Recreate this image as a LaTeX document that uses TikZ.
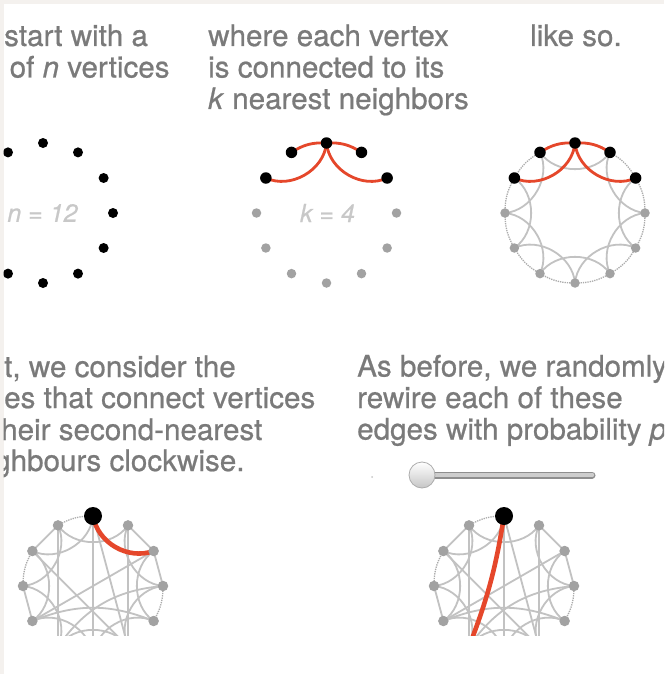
\documentclass[tikz,border=0pt]{standalone}
\usepackage{fontspec}
\setmainfont{TeX Gyre Heros}
\newfontfamily\heavyfont{TeX Gyre Heros}[FakeBold=0.7]
\usetikzlibrary{calc}
\definecolor{txtc}{HTML}{7A7A7A}
\definecolor{lblc}{HTML}{C8C8C8}
\definecolor{vgray}{HTML}{A2A2A2}
\definecolor{egray}{HTML}{C2C2C2}
\definecolor{ringc}{HTML}{ABABAB}
\definecolor{redge}{HTML}{E5472B}
\definecolor{framec}{HTML}{F4F1EE}
\definecolor{sldark}{HTML}{8E8E8E}
\definecolor{sllight}{HTML}{CDCDCD}

\newcommand\wsgraph[2]{%
  \foreach \i in {0,...,11} \coordinate (#1\i) at ($(#2)+({90-30*\i}:70)$);
  \foreach \a/\b in {11/0, 9/10, 3/4, 5/6, 6/7}
    \draw[ringedge] (#1\a) to[bend left=15] (#1\b);
  \foreach \a/\b in {10/11, 8/9, 1/2, 2/3}
    \draw[inedge] (#1\a) -- (#1\b);
  \foreach \a/\b in {11/1,10/0,9/11,8/10,7/9,6/8,5/7,4/6,3/5,2/4,1/3}
    \draw[inedge] (#1\a) to[bend right=55] (#1\b);
  \foreach \a/\b in {0/6, 0/5, 10/5, 2/8, 11/7, 1/5}
    \draw[inedge] (#1\a) -- (#1\b);
  \draw[inedge] (#18) to[bend left=22] (#14);
  \draw[inedge] (#17) to[bend left=25] (#13);
}

\begin{document}
\begin{tikzpicture}[x=1pt,y=1pt,
  txtstyle/.style={anchor=base west, inner sep=0, text=txtc, font=\heavyfont\fontsize{29.6}{32}\selectfont},
  numlbl/.style={text=lblc, inner sep=0, font=\heavyfont\fontsize{25}{28}\selectfont\itshape},
  bdot/.style={circle, fill=black, inner sep=0, minimum size=10pt},
  bigbdot/.style={circle, fill=black, inner sep=0, minimum size=11.5pt},
  hugebdot/.style={circle, fill=black, inner sep=0, minimum size=18pt},
  gdot/.style={circle, fill=vgray, inner sep=0, minimum size=9.5pt},
  gdotb/.style={circle, fill=vgray, inner sep=0, minimum size=10.5pt},
  ringedge/.style={draw=ringc, line width=1.3pt, densely dotted},
  inedge/.style={draw=egray, line width=1.8pt},
  redarc/.style={draw=redge, line width=2.8pt},
  redthick/.style={draw=redge, line width=4.6pt},
  knob/.style={circle, minimum size=26pt, inner sep=0, draw=gray!65, line width=0.8pt, top color=white, bottom color=gray!45},
]
\useasboundingbox (0,0) rectangle (664,-674);
\fill[framec] (0,0) rectangle (664,-674);
\fill[white] (3.5,-4) rectangle (664,-674);
\begin{scope}
\clip (3.5,-4) rectangle (664,-674);

% ---------- top texts ----------
\node[txtstyle] (t1) at (4,-46) {start with a};
\node[txtstyle] (t2) at (9.5,-77.5) {of \textit{n} vertices};
\node[txtstyle] (t3) at (208,-46) {where each vertex};
\node[txtstyle] (t4) at (208,-77.5) {is connected to its};
\node[txtstyle] (t5) at (208,-109) {\textit{k} nearest neighbors};
\node[txtstyle] (t6) at (530,-46) {like so.};

% ---------- panel 1 ----------
\foreach \i in {0,...,11}
  \node[bdot] (a\i) at ($(43,-213)+({90-30*\i}:70)$) {};
\node[numlbl] (nlab) at (42.5,-213) {n = 12};

% ---------- panel 2 ----------
\foreach \i in {0,...,11}
  \coordinate (b\i) at ($(326.5,-213)+({90-30*\i}:70)$);
\draw[redarc] (b0) to[bend left=18] (b1);
\draw[redarc] (b11) to[bend left=18] (b0);
\draw[redarc] (b0) to[bend right=55] (b2);
\draw[redarc] (b10) to[bend right=55] (b0);
\foreach \i in {3,...,9} \node[gdot] (bn\i) at (b\i) {};
\foreach \i in {10,11,0,1,2} \node[bigbdot] (bn\i) at (b\i) {};
\node[numlbl] (klab) at (327.5,-213) {k = 4};

% ---------- panel 3 ----------
\foreach \i in {0,...,11}
  \coordinate (c\i) at ($(575,-213)+({90-30*\i}:70)$);
\foreach \a/\b in {1/2,2/3,3/4,4/5,5/6,6/7,7/8,8/9,9/10,10/11}
  \draw[ringedge] (c\a) to[bend left=15] (c\b);
\foreach \a/\b in {11/1,9/11,8/10,7/9,6/8,5/7,4/6,3/5,2/4,1/3}
  \draw[inedge] (c\a) to[bend right=55] (c\b);
\draw[redarc] (c0) to[bend left=18] (c1);
\draw[redarc] (c11) to[bend left=18] (c0);
\draw[redarc] (c0) to[bend right=55] (c2);
\draw[redarc] (c10) to[bend right=55] (c0);
\foreach \i in {3,...,9} \node[gdot] (cn\i) at (c\i) {};
\foreach \i in {10,11,0,1,2} \node[bigbdot] (cn\i) at (c\i) {};

% ---------- bottom texts ----------
\node[txtstyle] (u1) at (4,-377) {t, we consider the};
\node[txtstyle] (u2) at (4,-408) {es that connect vertices};
\node[txtstyle] (u3) at (1,-440) {heir second-nearest};
\node[txtstyle] (u4) at (-6,-471) {ghbours clockwise.};
\node[txtstyle] (v1) at (357,-376.5) {As before, we randomly};
\node[txtstyle] (v2) at (357,-408) {rewire each of these};
\node[txtstyle] (v3) at (357,-439.5) {edges with probability \textit{p}};

% ---------- slider ----------
\coordinate (trackL) at (422,-475);
\coordinate (trackR) at (592,-475);
\draw[line width=7pt, line cap=round, sldark] (trackL) -- (trackR);
\draw[line width=4.6pt, line cap=round, sllight] (trackL) -- (trackR);
\node[knob] (knobn) at (trackL) {};
\node[circle, fill=gray!45, minimum size=2pt, inner sep=0] (tick) at (372,-477) {};

% ---------- bottom graphs ----------
\begin{scope}
\clip (0,-495) rectangle (664,-635);
\coordinate (cl) at (93,-586);
\wsgraph{L}{cl}
\draw[redthick] (L0) to[bend right=50] (L2);
\foreach \i in {1,...,11} \node[gdotb] (Ln\i) at (L\i) {};
\node[hugebdot] (Ln0) at (L0) {};

\coordinate (cr) at (504,-586);
\wsgraph{R}{cr}
\draw[redthick] (R0) to[bend left=6] (R7);
\foreach \i in {1,...,11} \node[gdotb] (Rn\i) at (R\i) {};
\node[hugebdot] (Rn0) at (R0) {};
\end{scope}

\end{scope}
\end{tikzpicture}
\end{document}
